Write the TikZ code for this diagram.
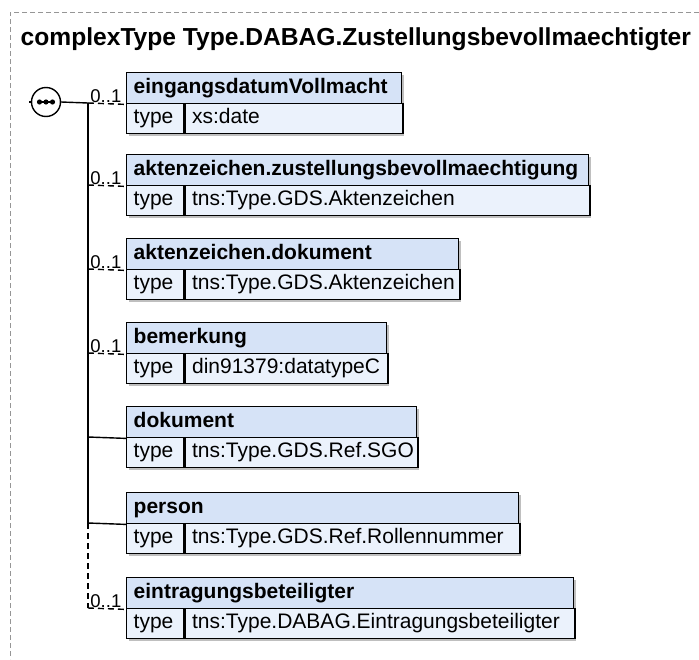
\documentclass[tikz,border=0pt]{standalone}
\usepackage{fontspec}
\setmainfont{Liberation Sans}
\usetikzlibrary{positioning,calc}
\definecolor{hdrblue}{RGB}{214,227,247}
\definecolor{typeblue}{RGB}{235,242,252}
\definecolor{framegray}{RGB}{150,150,150}

\begin{document}
\begin{tikzpicture}[x=1pt,y=-1pt,line width=1.4pt,
hdr/.style={draw,fill=hdrblue,anchor=north west,minimum height=31pt,inner xsep=7pt,inner ysep=0pt,
  align=left,text height=15pt,text depth=4.5pt,font=\fontsize{21}{24}\selectfont\bfseries},
cell/.style={draw,fill=typeblue,anchor=north west,minimum height=30pt,inner xsep=7pt,inner ysep=0pt,
  align=left,text height=15pt,text depth=4.5pt,font=\fontsize{21}{24}\selectfont},
mult/.style={anchor=south east,inner sep=0pt,font=\fontsize{18.5}{21}\selectfont},
opt/.style={dash pattern=on 6pt off 4pt}]
\useasboundingbox (0,0) rectangle (699,659);
% frame and title
\draw[framegray,line width=1pt,dash pattern=on 5pt off 3pt] (699,12) -- (10,12) -- (10,659);
\node[anchor=base west,inner sep=0pt,font=\fontsize{24.6}{29}\selectfont\bfseries] (title) at (20,45)
  {complexType Type.DABAG.Zustellungsbevollmaechtigter};
% sequence symbol
\node[draw,circle,fill=white,minimum size=29pt,inner sep=0pt] (seq) at (46,102) {};
\coordinate (in) at (29,102);
\draw (in) -- (seq.west);
\draw (37,102) -- (55,102);
\foreach \dx in {39.5,46,52.5} \fill (\dx,102) circle (2.6pt);
% element boxes
\foreach \i/\ty/\bw/\nm/\tp/\mul/\lst in {
1/72/275/eingangsdatumVollmacht/xs:date/0..1/opt,
2/154/462/aktenzeichen.zustellungsbevollmaechtigung/tns:Type.GDS.Aktenzeichen/0..1/opt,
3/238/332/aktenzeichen.dokument/tns:Type.GDS.Aktenzeichen/0..1/opt,
4/322/260/bemerkung/din91379:datatypeC/0..1/opt,
5/406/290/dokument/tns:Type.GDS.Ref.SGO//solid,
6/492/392/person/tns:Type.GDS.Ref.Rollennummer//solid,
7/577/447/eintragungsbeteiligter/tns:Type.DABAG.Eintragungsbeteiligter/0..1/opt}
{
\pgfmathsetmacro\hw{\bw-14}
\pgfmathsetmacro\vw{\bw-57-14}
\fill[black!25] (128.5,\ty+2.5) rectangle (126+\bw+2.5,\ty+63.5);
\node[cell,text width=43pt] (t\i) at (126,\ty+31) {type};
\node[cell,text width=\vw pt] (v\i) at (t\i.north east) {\tp};
\node[hdr,text width=\hw pt] (h\i) at (126,\ty) {\nm};
\coordinate (s\i) at (88,\ty+31);
\draw[\lst] (s\i) -- (h\i.south west) node[mult,pos=1,xshift=-4pt,yshift=1pt] (m\i) {\mul};
}
% spine
\draw (seq.east) -- (s1);
\draw (s1) -- (s6);
\draw[opt] (s6) -- (s7);
\end{tikzpicture}
\end{document}
